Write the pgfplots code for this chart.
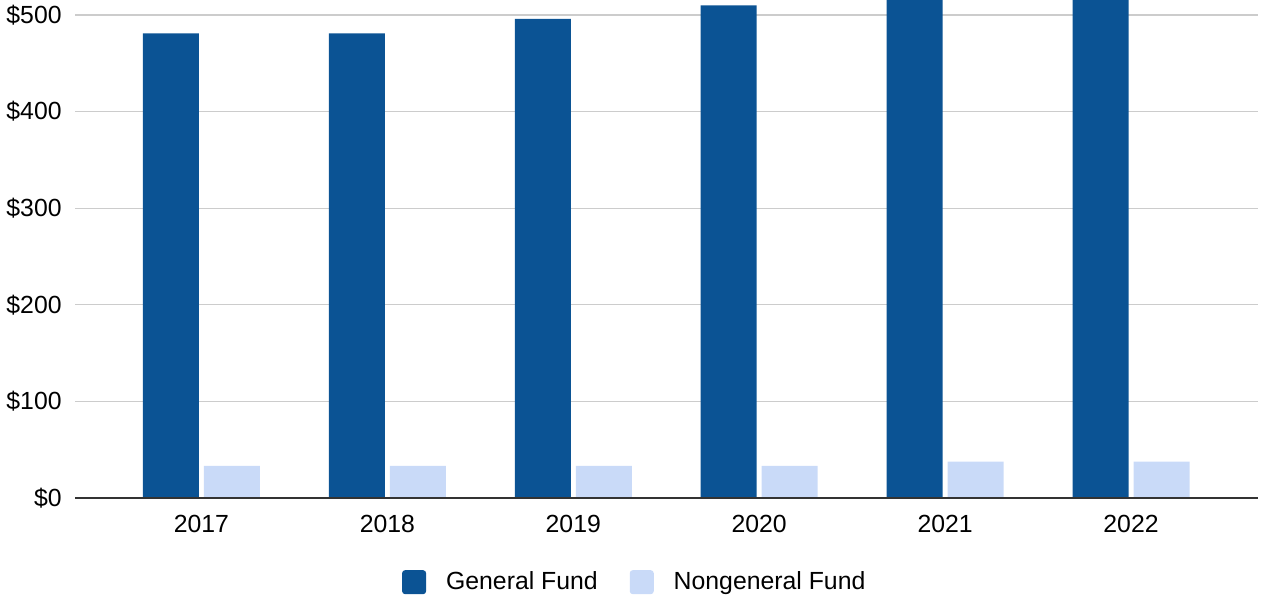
\documentclass[border=0pt]{standalone}
\usepackage{pgfplots}
\pgfplotsset{compat=1.18}
\usepackage{fontspec}
\setmainfont{Liberation Sans}
\definecolor{gf}{HTML}{0B5394}
\definecolor{ngf}{HTML}{C9DAF8}
\definecolor{gridc}{HTML}{CCCCCC}
\definecolor{basec}{HTML}{333333}
\begin{document}
\begin{tikzpicture}
\begin{axis}[
  name=ax,
  scale only axis, width=591.5pt, height=249pt,
  xmin=-0.68, xmax=5.683, ymin=0, ymax=515.5,
  ybar=2.5pt, bar width=28pt,
  axis x line*=bottom, axis y line*=left,
  x axis line style={draw=none}, y axis line style={draw=none},
  major tick length=0pt,
  xtick={0,1,2,3,4,5},
  xticklabels={2017,2018,2019,2020,2021,2022},
  ytick={0,100,200,300,400,500},
  yticklabels={\$0,\$100,\$200,\$300,\$400,\$500},
  ymajorgrids, grid style={color=gridc, line width=0.6pt},
  tick label style={font=\fontsize{12.4}{14}\selectfont, inner sep=0pt},
  xticklabel style={anchor=north, yshift=-8.5pt},
  yticklabel style={anchor=east, xshift=-6.5pt},
  legend style={at={(0.474,-0.169)}, anchor=center, draw=none, fill=none,
    font=\fontsize{12.4}{14}\selectfont, legend columns=2,
    /tikz/every even column/.append style={column sep=14pt}},
]
\addplot[fill=gf, draw=none,
  legend image code/.code={\fill[gf, rounded corners=1.5pt] (0pt,-6pt) rectangle (12pt,6pt); \path (20pt,0pt);}]
  coordinates {(0,481) (1,481) (2,496) (3,510) (4,540) (5,550)};
\addlegendentry{General Fund}
\addplot[fill=ngf, draw=none,
  legend image code/.code={\fill[ngf, rounded corners=1.5pt] (0pt,-6pt) rectangle (12pt,6pt); \path (20pt,0pt);}]
  coordinates {(0,33.4) (1,33.4) (2,33.4) (3,33.4) (4,37.8) (5,37.8)};
\addlegendentry{Nongeneral Fund}
\draw[color=basec, line width=0.75pt] (rel axis cs:0,0) -- (rel axis cs:1,0);
\end{axis}
\pgfresetboundingbox
\path[use as bounding box] ([xshift=-37.5pt,yshift=-50pt]ax.south west) rectangle ([xshift=2pt]ax.north east);
\end{tikzpicture}
\end{document}
